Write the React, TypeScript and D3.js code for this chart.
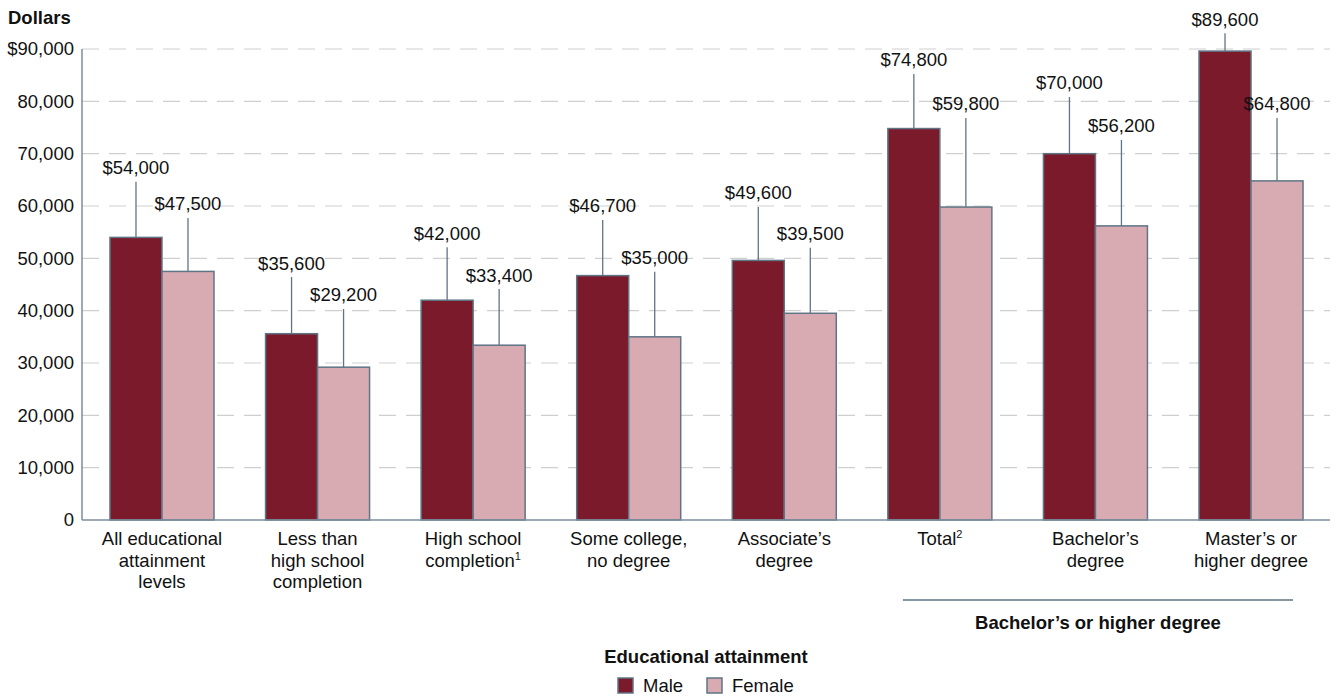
import React from "react";
import * as d3 from "d3";

const categories: string[][] = [
  ["All educational", "attainment", "levels"],
  ["Less than", "high school", "completion"],
  ["High school", "completion|1"],
  ["Some college,", "no degree"],
  ["Associate’s", "degree"],
  ["Total|2"],
  ["Bachelor’s", "degree"],
  ["Master’s or", "higher degree"],
];
const maleValues = [54000, 35600, 42000, 46700, 49600, 74800, 70000, 89600];
const femaleValues = [47500, 29200, 33400, 35000, 39500, 59800, 56200, 64800];
// label anchor levels (in dollars) where each value label sits
const maleLabelLevels = [67300, 49100, 54800, 60000, 62500, 87900, 83500, 95700];
const femaleLabelLevels = [60400, 43000, 46800, 50100, 54700, 79500, 75300, 79500];
const yTicks = [0, 10000, 20000, 30000, 40000, 50000, 60000, 70000, 80000, 90000];
const seriesNames = ["Male", "Female"];
const seriesColors = ["#7a1a2a", "#d8abb2"];
const bracketLabel = "Bachelor’s or higher degree";
const bracketCats = [5, 7];

const W = 1336;
const H = 698;
const FONT = "'Liberation Sans', Arial, Helvetica, sans-serif";
const FS = 18.5;

export default function App() {
  const left = 82;
  const right = 1330;
  const y = d3.scaleLinear().domain([0, 90000]).range([520, 49]);
  const x = d3
    .scaleBand<number>()
    .domain(d3.range(categories.length))
    .range([84.2, 1328.8])
    .paddingInner(0.3315)
    .paddingOuter(0.1657);
  const sub = d3.scaleBand<number>().domain([0, 1]).range([0, x.bandwidth()]);
  const fmtTick = (v: number) =>
    v === 90000 ? "$" + d3.format(",")(v) : d3.format(",")(v);
  const fmtVal = (v: number) => "$" + d3.format(",")(v);
  const stroke = "#5f7585";
  const series = [maleValues, femaleValues];
  const levels = [maleLabelLevels, femaleLabelLevels];

  const bx0 = (x(bracketCats[0]) as number) + 15;
  const bx1 = (x(bracketCats[1]) as number) + x.bandwidth() - 10;

  return (
    <svg
      width={W}
      height={H}
      style={{ position: "absolute", left: 0, top: 0, background: "#fff" }}
      fontFamily={FONT}
    >
      <text x={8} y={24} fontSize={FS} fontWeight="bold" fill="#111">
        Dollars
      </text>
      {yTicks.map((t) => (
        <g key={t}>
          {t > 0 && (
            <line
              x1={left}
              x2={right}
              y1={y(t)}
              y2={y(t)}
              stroke="#cfcfcf"
              strokeWidth={1.2}
              strokeDasharray="17 10"
            />
          )}
          <text
            x={74}
            y={y(t)}
            dy="0.35em"
            textAnchor="end"
            fontSize={FS}
            fill="#111"
          >
            {fmtTick(t)}
          </text>
        </g>
      ))}
      {categories.map((_, i) =>
        series.map((vals, s) => {
          const bx = (x(i) as number) + (sub(s) as number);
          const bw = sub.bandwidth();
          const cx = bx + bw / 2;
          const ly = y(levels[s][i]);
          return (
            <g key={i + "-" + s}>
              <line
                x1={cx}
                x2={cx}
                y1={ly + 14}
                y2={y(vals[i])}
                stroke={stroke}
                strokeWidth={1.3}
              />
              <rect
                x={bx}
                y={y(vals[i])}
                width={bw}
                height={y(0) - y(vals[i])}
                fill={seriesColors[s]}
                stroke={stroke}
                strokeWidth={1.5}
              />
              <text
                x={cx}
                y={ly}
                dy="0.35em"
                textAnchor="middle"
                fontSize={FS}
                fill="#111"
              >
                {fmtVal(vals[i])}
              </text>
            </g>
          );
        })
      )}
      <line x1={left} x2={left} y1={y(90000)} y2={y(0)} stroke="#7d8e9c" strokeWidth={1.5} />
      <line x1={left} x2={right} y1={y(0)} y2={y(0)} stroke="#7d8e9c" strokeWidth={1.5} />
      {categories.map((lines, i) => {
        const cx = (x(i) as number) + x.bandwidth() / 2;
        return (
          <text key={i} textAnchor="middle" fontSize={FS} fill="#111">
            {lines.map((ln, k) => {
              const [main, sup] = ln.split("|");
              return (
                <tspan key={k} x={cx} y={545 + k * 21.5}>
                  {main}
                  {sup && (
                    <tspan fontSize={11} dy={-7}>
                      {sup}
                    </tspan>
                  )}
                </tspan>
              );
            })}
          </text>
        );
      })}
      <line x1={bx0} x2={bx1} y1={600} y2={600} stroke="#5f7585" strokeWidth={1.3} />
      <text
        x={(bx0 + bx1) / 2}
        y={629}
        textAnchor="middle"
        fontSize={FS}
        fontWeight="bold"
        fill="#111"
      >
        {bracketLabel}
      </text>
      <text x={706} y={663} textAnchor="middle" fontSize={FS} fontWeight="bold" fill="#111">
        Educational attainment
      </text>
      {seriesNames.map((n, s) => {
        const lx = s === 0 ? 618 : 707;
        return (
          <g key={n}>
            <rect x={lx} y={678} width={15} height={15} fill={seriesColors[s]} stroke={stroke} strokeWidth={1.5} />
            <text x={lx + 25} y={692} fontSize={FS} fill="#111">
              {n}
            </text>
          </g>
        );
      })}
    </svg>
  );
}
